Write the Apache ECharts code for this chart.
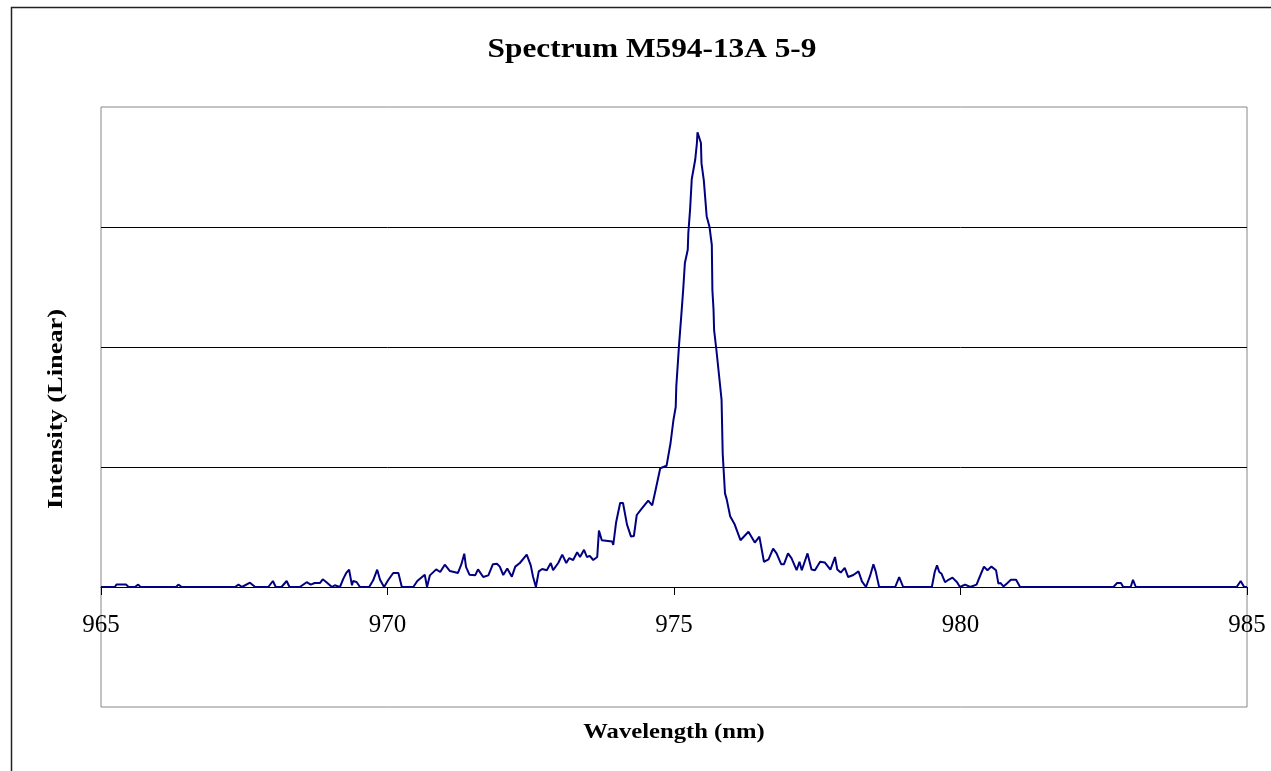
<!DOCTYPE html>
<html>
<head>
<meta charset="utf-8">
<style>
html,body{margin:0;padding:0;background:#fff;}
#chart{width:1271px;height:771px;}
</style>
<script src="https://cdn.jsdelivr.net/npm/echarts@6/dist/echarts.min.js"></script>
</head>
<body>
<div id="chart"></div>
<script>
const titleText = 'Spectrum M594-13A 5-9';
const xAxisName = 'Wavelength (nm)';
const yAxisName = 'Intensity (Linear)';
const xTicks = [965, 970, 975, 980, 985];
const yRange = [-1, 4];

const wavelengths = [965.00,965.24,965.27,965.44,965.48,965.59,965.65,965.69,966.31,966.35,966.41,967.34,967.40,967.46,967.60,967.69,967.92,968.00,968.05,968.15,968.24,968.29,968.47,968.59,968.66,968.73,968.82,968.87,968.93,969.03,969.08,969.17,969.23,969.28,969.33,969.38,969.40,969.46,969.52,969.68,969.75,969.82,969.87,969.94,970.01,970.10,970.19,970.25,970.45,970.52,970.65,970.69,970.74,970.85,970.92,971.00,971.09,971.23,971.29,971.34,971.37,971.43,971.53,971.58,971.67,971.76,971.84,971.91,971.96,972.02,972.09,972.17,972.23,972.31,972.43,972.50,972.54,972.59,972.64,972.70,972.78,972.85,972.89,972.98,973.05,973.12,973.17,973.24,973.31,973.36,973.43,973.48,973.53,973.59,973.66,973.69,973.74,973.92,973.94,973.99,974.06,974.11,974.18,974.25,974.30,974.35,974.44,974.55,974.62,974.67,974.76,974.87,974.94,974.99,975.03,975.04,975.09,975.13,975.16,975.19,975.24,975.25,975.28,975.31,975.37,975.40,975.41,975.44,975.47,975.48,975.52,975.57,975.62,975.66,975.67,975.69,975.70,975.74,975.80,975.83,975.85,975.89,975.92,975.98,976.06,976.16,976.30,976.41,976.49,976.57,976.65,976.73,976.79,976.87,976.92,976.99,977.05,977.14,977.19,977.23,977.33,977.40,977.46,977.55,977.63,977.73,977.81,977.85,977.91,977.98,978.04,978.13,978.22,978.28,978.35,978.42,978.48,978.52,978.58,978.86,978.93,979.00,979.50,979.55,979.59,979.63,979.67,979.73,979.79,979.86,979.94,979.99,980.08,980.17,980.28,980.37,980.41,980.47,980.54,980.62,980.66,980.70,980.75,980.81,980.88,980.97,981.04,982.67,982.73,982.80,982.84,982.97,983.01,983.06,984.82,984.89,984.95,985.00];

const intensities = [0,0,0.02,0.02,0,0,0.02,0,0,0.02,0,0,0.02,0,0.036,0,0,0.05,0,0,0.05,0,0,0.04,0.02,0.033,0.033,0.064,0.042,0,0.014,0,0.07,0.117,0.144,0.014,0.05,0.042,0,0,0.056,0.144,0.061,0,0.056,0.117,0.117,0,0,0.05,0.103,0,0.097,0.147,0.125,0.186,0.133,0.117,0.19,0.278,0.167,0.103,0.097,0.147,0.083,0.097,0.19,0.194,0.17,0.1,0.155,0.086,0.17,0.2,0.27,0.18,0.086,0,0.13,0.15,0.14,0.2,0.14,0.2,0.27,0.2,0.24,0.225,0.29,0.25,0.31,0.25,0.26,0.225,0.25,0.47,0.39,0.38,0.35,0.54,0.70,0.70,0.52,0.42,0.425,0.6,0.655,0.72,0.68,0.79,0.99,1.01,1.2,1.39,1.5,1.67,2.03,2.28,2.475,2.7,2.81,2.95,3.14,3.4,3.56,3.7,3.79,3.79,3.7,3.53,3.39,3.09,3.0,2.85,2.475,2.31,2.14,1.975,1.70,1.56,1.11,0.78,0.73,0.59,0.52,0.39,0.46,0.37,0.42,0.21,0.23,0.32,0.28,0.19,0.19,0.28,0.24,0.14,0.21,0.14,0.28,0.145,0.14,0.21,0.205,0.145,0.25,0.145,0.12,0.16,0.083,0.10,0.13,0.047,0,0.09,0.19,0.13,0,0,0.083,0,0,0.125,0.18,0.125,0.11,0.04,0.06,0.078,0.04,0,0.02,0,0.02,0.125,0.17,0.14,0.17,0.14,0.03,0.033,0.005,0.03,0.06,0.06,0,0,0.033,0.033,0,0,0.06,0,0,0.05,0,0];

const seriesData = wavelengths.map((w, i) => [w, intensities[i]]);
const serif = '"Liberation Serif", "Times New Roman", serif';

const chart = echarts.init(document.getElementById('chart'), null, {renderer: 'canvas'});
chart.setOption({
  backgroundColor: '#ffffff',
  animation: false,
  grid: {
    left: 101, top: 107, width: 1146, height: 600,
    show: true, borderColor: '#888888', borderWidth: 1, backgroundColor: 'transparent'
  },
  xAxis: {
    type: 'value',
    position: 'bottom',
    offset: -120,
    min: xTicks[0], max: xTicks[xTicks.length - 1],
    interval: xTicks[1] - xTicks[0],
    axisLine: {show: true, onZero: false, lineStyle: {color: '#000', width: 1}},
    axisTick: {show: true, inside: false, length: 8, lineStyle: {color: '#000', width: 1}},
    axisLabel: {show: true, color: '#000', fontFamily: serif, fontSize: 25, margin: 26},
    splitLine: {show: false}
  },
  yAxis: {
    type: 'value',
    min: yRange[0], max: yRange[1], interval: 1,
    axisLine: {show: false},
    axisTick: {show: false},
    axisLabel: {show: false},
    splitLine: {show: true, showMinLine: false, showMaxLine: false, lineStyle: {color: '#000', width: 1}}
  },
  series: [{
    type: 'line',
    data: seriesData,
    showSymbol: false,
    symbol: 'none',
    lineStyle: {color: '#000080', width: 2},
    z: 5
  }],
  graphic: [
    {type: 'rect', shape: {x: 11.5, y: 7.5, width: 1400, height: 900}, style: {fill: 'none', stroke: '#222', lineWidth: 1.5}, silent: true, z: 100},
    {type: 'text', x: 652, y: 50, scaleX: 1.16, style: {text: titleText, font: 'bold 27px ' + serif, fill: '#000', align: 'center', verticalAlign: 'middle'}, z: 100},
    {type: 'text', x: 674, y: 732, scaleX: 1.12, style: {text: xAxisName, font: 'bold 22px ' + serif, fill: '#000', align: 'center', verticalAlign: 'middle'}, z: 100},
    {type: 'text', x: 56, y: 409, rotation: Math.PI / 2, scaleX: 1.2, style: {text: yAxisName, font: 'bold 22px ' + serif, fill: '#000', align: 'center', verticalAlign: 'middle'}, z: 100}
  ]
});
</script>
</body>
</html>
